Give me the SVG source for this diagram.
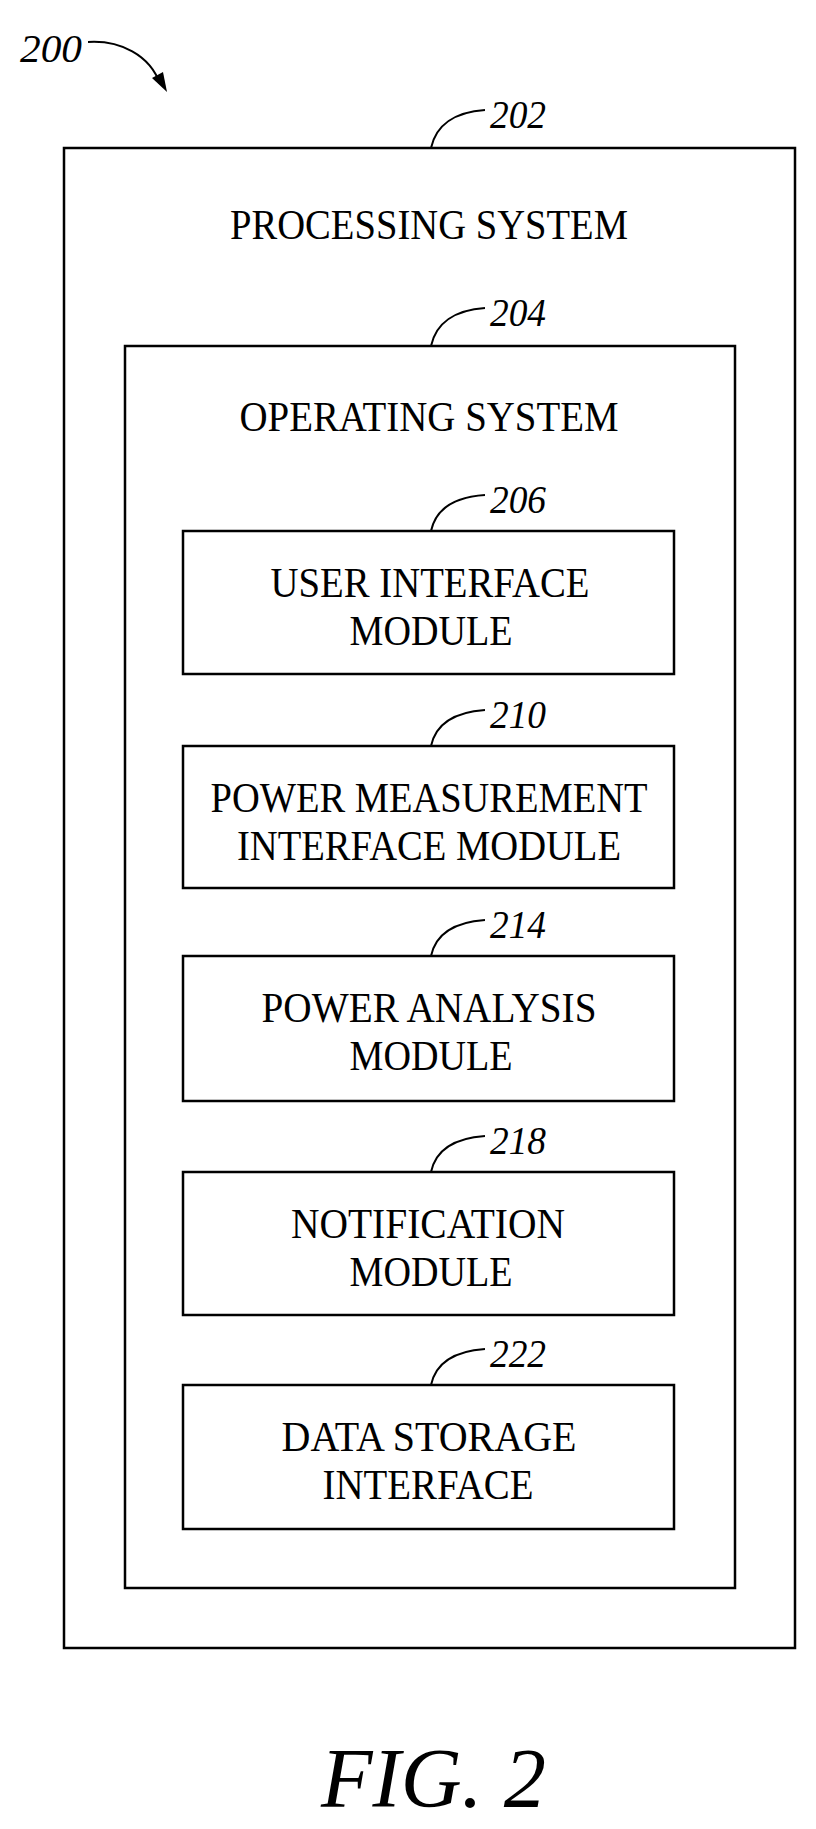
<svg xmlns="http://www.w3.org/2000/svg" width="816" height="1829" viewBox="0 0 816 1829">
<style>
.box{fill:none;stroke:#000;stroke-width:2.5}
.t{font-family:"Liberation Serif",serif;font-size:42px;text-anchor:middle;fill:#000}
.lb{font-family:"Liberation Serif",serif;font-size:40px;font-style:italic;fill:#000}
.ld{fill:none;stroke:#000;stroke-width:2}
</style>
<rect width="816" height="1829" fill="#fff"/>
<g id="connectors">
<path class="ld" d="M88,42 C120,40 150,55 160,84"/>
<path d="M152,78 L167,92 L163,72 Z" fill="#000"/>
<path class="ld" d="M431,148 C436,125 455,112 485,110"/>
<path class="ld" d="M431,346 C436,323 455,310 485,308"/>
<path class="ld" d="M431,531 C436,508 455,497 485,495"/>
<path class="ld" d="M431,746 C436,723 455,712 485,710"/>
<path class="ld" d="M431,956 C436,933 455,922 485,920"/>
<path class="ld" d="M431,1172 C436,1149 455,1138 485,1136"/>
<path class="ld" d="M431,1385 C436,1362 455,1351 485,1349"/>
</g>
<text class="lb" x="20" y="62" textLength="62" lengthAdjust="spacingAndGlyphs">200</text>
<g id="n202"><rect class="box" x="64" y="148" width="731" height="1500"/>
<text class="lb" x="490" y="128" textLength="56" lengthAdjust="spacingAndGlyphs">202</text>
<text class="t" x="429" y="239" textLength="398" lengthAdjust="spacingAndGlyphs">PROCESSING SYSTEM</text></g>
<g id="n204"><rect class="box" x="125" y="346" width="610" height="1242"/>
<text class="lb" x="490" y="326" textLength="56" lengthAdjust="spacingAndGlyphs">204</text>
<text class="t" x="429" y="431" textLength="379" lengthAdjust="spacingAndGlyphs">OPERATING SYSTEM</text></g>
<g id="n206"><rect class="box" x="183" y="531" width="491" height="143"/>
<text class="lb" x="490" y="513" textLength="56" lengthAdjust="spacingAndGlyphs">206</text>
<text class="t" x="430" y="597" textLength="319" lengthAdjust="spacingAndGlyphs">USER INTERFACE</text>
<text class="t" x="431" y="645" textLength="163" lengthAdjust="spacingAndGlyphs">MODULE</text></g>
<g id="n210"><rect class="box" x="183" y="746" width="491" height="142"/>
<text class="lb" x="490" y="728" textLength="56" lengthAdjust="spacingAndGlyphs">210</text>
<text class="t" x="429" y="812" textLength="437" lengthAdjust="spacingAndGlyphs">POWER MEASUREMENT</text>
<text class="t" x="429" y="860" textLength="384" lengthAdjust="spacingAndGlyphs">INTERFACE MODULE</text></g>
<g id="n214"><rect class="box" x="183" y="956" width="491" height="145"/>
<text class="lb" x="490" y="938" textLength="56" lengthAdjust="spacingAndGlyphs">214</text>
<text class="t" x="429" y="1022" textLength="335" lengthAdjust="spacingAndGlyphs">POWER ANALYSIS</text>
<text class="t" x="431" y="1070" textLength="163" lengthAdjust="spacingAndGlyphs">MODULE</text></g>
<g id="n218"><rect class="box" x="183" y="1172" width="491" height="143"/>
<text class="lb" x="490" y="1154" textLength="56" lengthAdjust="spacingAndGlyphs">218</text>
<text class="t" x="428" y="1238" textLength="274" lengthAdjust="spacingAndGlyphs">NOTIFICATION</text>
<text class="t" x="431" y="1286" textLength="163" lengthAdjust="spacingAndGlyphs">MODULE</text></g>
<g id="n222"><rect class="box" x="183" y="1385" width="491" height="144"/>
<text class="lb" x="490" y="1367" textLength="56" lengthAdjust="spacingAndGlyphs">222</text>
<text class="t" x="429" y="1451" textLength="295" lengthAdjust="spacingAndGlyphs">DATA STORAGE</text>
<text class="t" x="428" y="1499" textLength="211" lengthAdjust="spacingAndGlyphs">INTERFACE</text></g>
<text x="321" y="1807" font-family="Liberation Serif,serif" font-size="84" font-style="italic" textLength="225" lengthAdjust="spacingAndGlyphs">FIG. 2</text>
</svg>
